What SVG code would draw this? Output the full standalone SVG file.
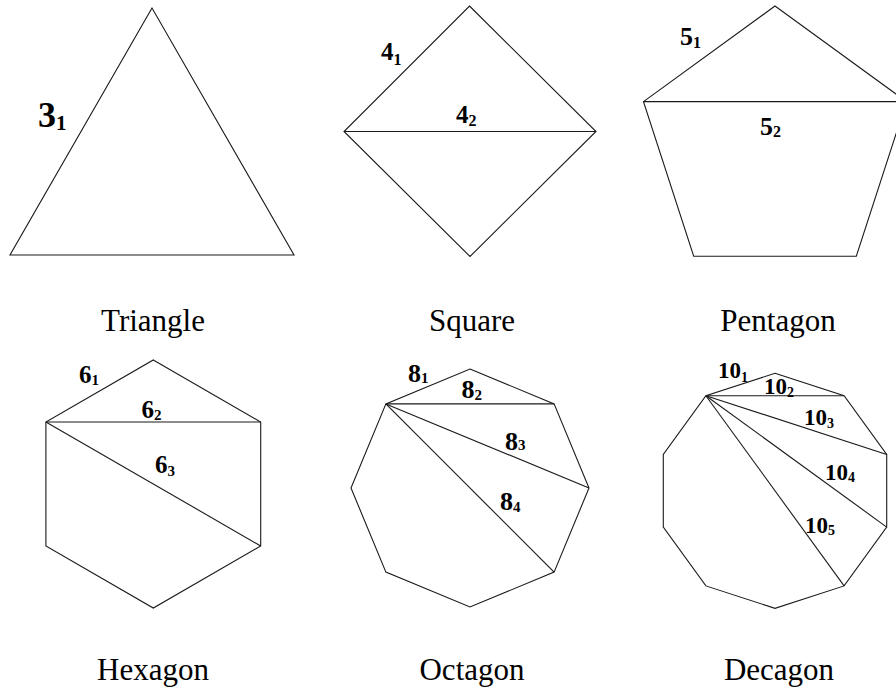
<svg xmlns="http://www.w3.org/2000/svg" width="896" height="689" viewBox="0 0 896 689">
<style>
.shape{fill:none;stroke:#1a1a1a;stroke-width:1.1;stroke-linejoin:miter}
.lab{font-family:"Liberation Serif","Times New Roman",serif;font-weight:bold;fill:#000}
.cap{font-family:"Liberation Serif","Times New Roman",serif;font-size:31px;fill:#000;text-anchor:middle}
</style>
<rect width="896" height="689" fill="#fff"/>
<g id="triangle">
<polygon class="shape" points="152,8 10,255 294,255"/>
<text class="lab" x="38" y="127" font-size="36">3<tspan font-size="21" dy="3">1</tspan></text>
<text class="cap" x="153" y="331">Triangle</text>
</g>
<g id="square">
<polygon class="shape" points="469.5,6 596,131.5 470,256.5 344,131.5"/>
<line class="shape" x1="344" y1="131.5" x2="596" y2="131.5"/>
<text class="lab" x="381" y="60" font-size="25">4<tspan font-size="16" dy="5">1</tspan></text>
<text class="lab" x="456" y="123" font-size="25">4<tspan font-size="16" dy="3">2</tspan></text>
<text class="cap" x="472" y="331">Square</text>
</g>
<g id="pentagon">
<polygon class="shape" points="775,6 906.5,101.6 856.3,256.2 693.7,256.2 643.5,101.6"/>
<line class="shape" x1="643.5" y1="101.6" x2="906.5" y2="101.6"/>
<text class="lab" x="680" y="45" font-size="26">5<tspan font-size="16" dy="3">1</tspan></text>
<text class="lab" x="760" y="135" font-size="26">5<tspan font-size="16" dy="2">2</tspan></text>
<text class="cap" x="778" y="331">Pentagon</text>
</g>
<g id="hexagon">
<polygon class="shape" points="153.3,360 260.7,422 260.7,546 153.3,608 45.9,546 45.9,422"/>
<line class="shape" x1="45.9" y1="422" x2="260.7" y2="422"/>
<line class="shape" x1="45.9" y1="422" x2="260.7" y2="546"/>
<text class="lab" x="79" y="383" font-size="25">6<tspan font-size="15" dy="2">1</tspan></text>
<text class="lab" x="141.5" y="418" font-size="25">6<tspan font-size="15" dy="2">2</tspan></text>
<text class="lab" x="155" y="473" font-size="25">6<tspan font-size="15" dy="3">3</tspan></text>
<text class="cap" x="153" y="680">Hexagon</text>
</g>
<g id="octagon">
<polygon class="shape" points="470,369 554.1,403.9 589,488 554.1,572.1 470,607 385.9,572.1 351,488 385.9,403.9"/>
<line class="shape" x1="385.9" y1="403.9" x2="554.1" y2="403.9"/>
<line class="shape" x1="385.9" y1="403.9" x2="589" y2="488"/>
<line class="shape" x1="385.9" y1="403.9" x2="554.1" y2="572.1"/>
<text class="lab" x="408" y="382" font-size="26">8<tspan font-size="15" dy="1">1</tspan></text>
<text class="lab" x="461.5" y="398" font-size="26">8<tspan font-size="15" dy="2">2</tspan></text>
<text class="lab" x="505" y="450" font-size="26">8<tspan font-size="15" dy="0">3</tspan></text>
<text class="lab" x="500" y="510" font-size="26">8<tspan font-size="15" dy="2">4</tspan></text>
<text class="cap" x="472" y="680">Octagon</text>
</g>
<g id="decagon">
<polygon class="shape" points="775,373.3 844.1,395.7 886.7,454.5 886.7,527.1 844.1,585.9 775,608.3 705.9,585.9 663.3,527.1 663.3,454.5 705.9,395.7"/>
<line class="shape" x1="705.9" y1="395.7" x2="844.1" y2="395.7"/>
<line class="shape" x1="705.9" y1="395.7" x2="886.7" y2="454.5"/>
<line class="shape" x1="705.9" y1="395.7" x2="886.7" y2="527.1"/>
<line class="shape" x1="705.9" y1="395.7" x2="844.1" y2="585.9"/>
<text class="lab" x="718" y="378" font-size="23">10<tspan font-size="14" dy="4">1</tspan></text>
<text class="lab" x="764" y="394" font-size="23">10<tspan font-size="14" dy="3">2</tspan></text>
<text class="lab" x="804" y="425" font-size="23">10<tspan font-size="14" dy="3">3</tspan></text>
<text class="lab" x="825" y="480" font-size="23">10<tspan font-size="14" dy="2">4</tspan></text>
<text class="lab" x="805" y="533" font-size="23">10<tspan font-size="14" dy="2">5</tspan></text>
<text class="cap" x="779" y="680">Decagon</text>
</g>
</svg>
